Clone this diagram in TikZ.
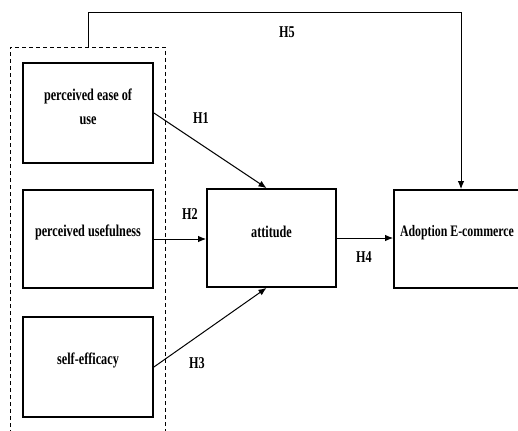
\documentclass[tikz,border=0pt]{standalone}
\usepackage{fontspec}
\setmainfont{Liberation Serif}[FakeStretch=0.74]
\usetikzlibrary{arrows.meta}
\begin{document}
\begin{tikzpicture}[x=1pt,y=-1pt,
  txt/.style={font=\fontsize{16.5}{24}\selectfont\bfseries, align=center, inner sep=0pt},
  box/.style={draw, line width=1.8pt, minimum width=130pt, minimum height=99pt, inner sep=0pt},
  inlbl/.style={txt, yshift=6.5pt},
  arr/.style={line width=1pt, -{Latex[length=8pt,width=6.5pt]}},
  grp/.style={line width=0.8pt, dash pattern=on 4pt off 3pt}
]
\clip (0,0) rectangle (518,430);
\fill[white] (0,0) rectangle (518,430);
% group outline
\coordinate (gbl) at (10,434);
\coordinate (gtl) at (10,47);
\coordinate (gtr) at (165,47);
\coordinate (gbr) at (165,434);
\coordinate (gtop) at (88,47);
\draw[grp] (gbl) -- (gtl) -- (gtr) -- (gbr);
% boxes
\node[box, minimum height=100pt, label={[inlbl]center:{perceived ease of\\use}}] (peou) at (88,113) {};
\node[box, minimum height=98pt, label={[inlbl]center:perceived usefulness}] (pu) at (88,239) {};
\node[box, minimum height=100pt, label={[inlbl]center:self-efficacy}] (se) at (88,367) {};
\node[box, minimum width=129pt, minimum height=98pt, label={[inlbl]center:attitude}] (att) at (271.5,238) {};
\node[box, minimum width=134pt, minimum height=98pt, label={[inlbl, xshift=-4pt, font=\fontsize{16}{24}\selectfont\bfseries]center:Adoption E-commerce}] (ado) at (461,239) {};
% connectors
\draw[arr] (peou.east) -- ([xshift=-5pt]att.north);
\draw[arr] (pu.east) -- (pu.east -| att.west);
\draw[arr] (se.east) -- ([xshift=-5pt]att.south);
\draw[arr] (att.east) -- (att.east -| ado.west);
\coordinate (h5c) at (88,13);
\draw[arr] (gtop) -- (h5c) -| (ado.north);
% labels
\node[txt] (h1) at (201,118) {H1};
\node[txt] (h2) at (190,214) {H2};
\node[txt] (h3) at (197,363) {H3};
\node[txt] (h4) at (364,257) {H4};
\node[txt] (h5) at (287,32) {H5};
\end{tikzpicture}
\end{document}
